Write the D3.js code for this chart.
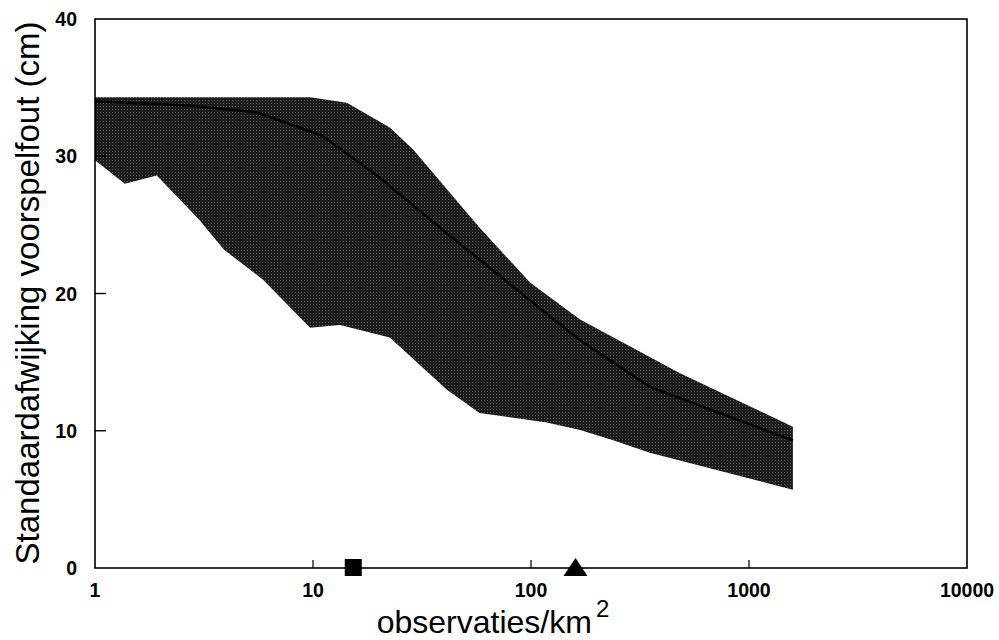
<!DOCTYPE html>
<html>
<head>
<meta charset="utf-8">
<script src="https://cdn.jsdelivr.net/npm/d3@7"></script>
<style>
  body { margin: 0; background: #fff; }
  svg { display: block; font-family: "Liberation Sans", Arial, sans-serif; }
</style>
</head>
<body>
<svg id="chart" width="999" height="640"></svg>
<script>
// upper and lower edge of the shaded band (observaties/km2 -> cm)
const upperX = [1, 9.7, 14.3, 22.5, 28.8, 58, 99, 168, 480, 1590];
const upperY = [34.3, 34.3, 33.9, 32.1, 30.5, 24.8, 20.8, 18.1, 14.2, 10.3];
const lowerX = [1, 1.37, 1.92, 3.0, 3.9, 5.9, 9.7, 13.3, 22.5, 41, 58, 118, 168, 238, 351, 1590];
const lowerY = [29.7, 28.0, 28.6, 25.4, 23.2, 21.0, 17.5, 17.7, 16.8, 13.0, 11.3, 10.6, 10.05, 9.3, 8.4, 5.7];
// middle line
const medianX = [1, 2.7, 5.5, 11, 20, 41, 99, 168, 351, 1590];
const medianY = [34.0, 33.7, 33.2, 31.5, 28.5, 24.4, 19.5, 16.6, 13.2, 9.3];
// markers on the x axis
const squareX = [15.3];
const triangleX = [160];
const xTicks = [1, 10, 100, 1000, 10000];
const yTicks = [0, 10, 20, 30, 40];

const svg = d3.select('#chart');
const m = { left: 95, right: 967, top: 19, bottom: 568 };

const x = d3.scaleLog().domain([1, 10000]).range([m.left, m.right]);
const y = d3.scaleLinear().domain([0, 40]).range([m.bottom, m.top]);

// dither-ish texture for the band
const defs = svg.append('defs');
const pat = defs.append('pattern')
  .attr('id', 'dots').attr('patternUnits', 'userSpaceOnUse')
  .attr('width', 3).attr('height', 3);
pat.append('rect').attr('width', 3).attr('height', 3).attr('fill', '#1c1c1c');
pat.append('rect').attr('x', 1).attr('y', 1).attr('width', 1).attr('height', 1).attr('fill', '#5a5a5a');

const line = d3.line().x(d => x(d[0])).y(d => y(d[1]));

// band polygon: upper edge forward, lower edge back
const band = upperX.map((v, i) => [v, upperY[i]])
  .concat(lowerX.map((v, i) => [v, lowerY[i]]).reverse());
svg.append('path')
  .attr('d', line(band) + 'Z')
  .attr('fill', 'url(#dots)');

svg.append('path')
  .attr('d', line(medianX.map((v, i) => [v, medianY[i]])))
  .attr('fill', 'none')
  .attr('stroke', '#000')
  .attr('stroke-width', 2.5);

// frame
svg.append('rect')
  .attr('x', m.left).attr('y', m.top)
  .attr('width', m.right - m.left).attr('height', m.bottom - m.top)
  .attr('fill', 'none').attr('stroke', '#000').attr('stroke-width', 1.6);

// inward ticks
svg.append('g').selectAll('line').data(xTicks.slice(1, -1)).enter()
  .append('line')
  .attr('x1', d => x(d)).attr('x2', d => x(d))
  .attr('y1', m.bottom).attr('y2', m.bottom - 8)
  .attr('stroke', '#000').attr('stroke-width', 1.2);
svg.append('g').selectAll('line').data(yTicks.slice(1, -1)).enter()
  .append('line')
  .attr('x1', m.left).attr('x2', m.left + 11)
  .attr('y1', d => y(d)).attr('y2', d => y(d))
  .attr('stroke', '#000').attr('stroke-width', 1.4);

// tick labels
svg.append('g').selectAll('text').data(xTicks).enter()
  .append('text')
  .attr('x', d => x(d)).attr('y', 597)
  .attr('text-anchor', 'middle')
  .attr('font-size', 19.5).attr('font-weight', 'bold')
  .text(d => d);
svg.append('g').selectAll('text').data(yTicks).enter()
  .append('text')
  .attr('x', 77).attr('y', d => y(d) + 7)
  .attr('text-anchor', 'end')
  .attr('font-size', 19.5).attr('font-weight', 'bold')
  .text(d => d);

// markers
svg.append('g').selectAll('rect').data(squareX).enter()
  .append('rect')
  .attr('x', d => x(d) - 8.5).attr('y', m.bottom - 9)
  .attr('width', 17).attr('height', 17)
  .attr('fill', '#000');
svg.append('g').selectAll('path').data(triangleX).enter()
  .append('path')
  .attr('transform', d => `translate(${x(d)},${m.bottom})`)
  .attr('d', 'M0,-10L12,8L-12,8Z')
  .attr('fill', '#000');

// axis titles
const xt = svg.append('text')
  .attr('x', 493).attr('y', 633)
  .attr('text-anchor', 'middle')
  .attr('font-size', 32);
xt.append('tspan').text('observaties/km');
xt.append('tspan').attr('dx', 4).attr('dy', -16).attr('font-size', 24).text('2');

svg.append('text')
  .attr('transform', 'translate(39,293) rotate(-90)')
  .attr('text-anchor', 'middle')
  .attr('font-size', 33)
  .text('Standaardafwijking voorspelfout (cm)');
</script>
</body>
</html>
